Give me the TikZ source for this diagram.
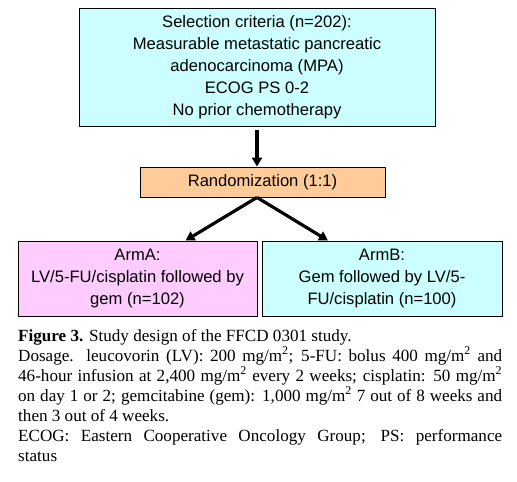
\documentclass[tikz,border=0pt]{standalone}
\usepackage{fontspec}
\setmainfont{Liberation Serif}
\newfontfamily\boxfont{Liberation Sans}
\usetikzlibrary{arrows.meta, positioning}
\definecolor{selcyan}{HTML}{CCFFFF}
\definecolor{randorange}{HTML}{FFCC99}
\definecolor{armpink}{HTML}{FFCCFF}

\begin{document}
\begin{tikzpicture}[x=1pt, y=-1pt,
  stage/.style={draw, line width=0.9pt, align=center, inner sep=0pt,
                font=\boxfont\fontsize{16.6}{22}\selectfont},
  flow/.style={-{Triangle[length=9pt, width=10pt]}, line width=3.2pt},
  capt/.style={anchor=north west, inner sep=0pt, text width=484pt, align=justify,
               font=\fontsize{17.1}{20}\selectfont}
]
  \useasboundingbox (0,0) rectangle (517,482);
  % Boxes of the study design
  \node[stage, fill=selcyan, minimum width=356pt, minimum height=118pt] (select) at (257,67)
    {Selection criteria (n=202):\\ Measurable metastatic pancreatic\\ adenocarcinoma (MPA)\\ ECOG PS 0-2\\ No prior chemotherapy};
  \node[stage, fill=randorange, minimum width=245pt, minimum height=30pt] (rand) at (262.5,182)
    {Randomization (1:1)};
  \node[stage, fill=armpink, minimum width=239pt, minimum height=75pt] (armA) at (137.5,278.5)
    {ArmA:\\ LV/5-FU/cisplatin followed by\\ gem (n=102)};
  \node[stage, fill=selcyan, minimum width=240pt, minimum height=75pt] (armB) at (382,278.5)
    {ArmB:\\ Gem followed by LV/5-\\ FU/cisplatin (n=100)};
  % Arrows
  \coordinate (split) at (select.south |- rand.south);
  \draw[flow, shorten <=4pt] (select.south) -- (select.south |- rand.north);
  \draw[flow] (split) -- ([xshift=48pt]armA.north);
  \draw[flow] (split) -- ([xshift=-54pt]armB.north);
  % Caption
  \node[capt] (caption) at (18,329) {\textbf{Figure 3.} Study design of the FFCD 0301 study.\\
    Dosage. leucovorin (LV): 200 mg/m\textsuperscript{2}; 5-FU: bolus 400 mg/m\textsuperscript{2} and\linebreak
    46-hour infusion at 2,400 mg/m\textsuperscript{2} every 2 weeks; cisplatin: 50 mg/m\textsuperscript{2}\linebreak
    on day 1 or 2; gemcitabine (gem): 1,000 mg/m\textsuperscript{2} 7 out of 8 weeks and\linebreak
    then 3 out of 4 weeks.\\
    ECOG: Eastern Cooperative Oncology Group; PS: performance\linebreak
    status\par};
\end{tikzpicture}
\end{document}
